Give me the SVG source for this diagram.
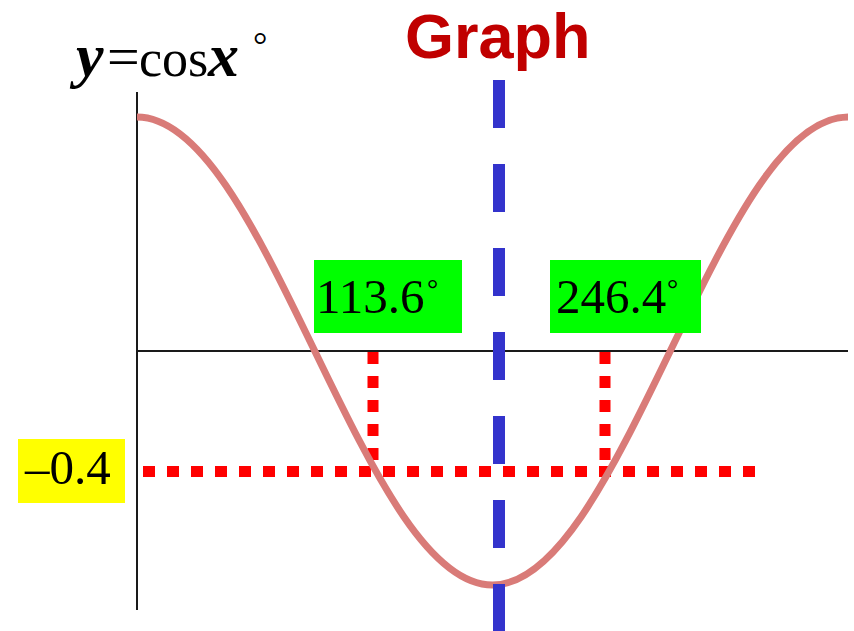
<svg xmlns="http://www.w3.org/2000/svg" width="854" height="631" viewBox="0 0 854 631">
<style>
.axis{stroke:#1a1a1a;stroke-width:2;fill:none}
.dot{stroke:#ff0000;stroke-width:11;stroke-dasharray:12 12;fill:none}
.num{font-family:"Liberation Serif","Times New Roman",serif;font-size:49px;fill:#000}
.deg{font-family:"Liberation Serif","Times New Roman",serif;fill:#000}
</style>
<rect width="854" height="631" fill="#fff"/>
<g id="axes">
<line class="axis" x1="137" y1="92" x2="137" y2="610"/>
<line class="axis" x1="137" y1="351" x2="848" y2="351"/>
</g>
<g id="connectors">
<line class="dot" x1="143" y1="471.5" x2="755" y2="471.5"/>
<line class="dot" x1="373" y1="352" x2="373" y2="471"/>
<line class="dot" x1="605" y1="352" x2="605" y2="471"/>
<path id="curve" d="M137,117 C166.63,117 196.25,142.22 225.88,185.54 C255.5,228.86 285.13,289.74 314.75,351 C344.38,412.26 374,473.14 403.63,516.46 C433.25,559.78 462.88,585 492.5,585 C522.13,585 551.75,559.78 581.38,516.46 C611,473.14 640.63,412.26 670.25,351 C699.88,289.74 729.5,228.86 759.13,185.54 C788.75,142.22 818.38,117 848,117" fill="none" stroke="#d97b78" stroke-width="7"/>
<line x1="499" y1="80" x2="499" y2="631" stroke="#3333cc" stroke-width="12" stroke-dasharray="48 36"/>
</g>
<g id="title">
<text x="405" y="58" font-family="'Liberation Sans',Arial,sans-serif" font-weight="bold" font-size="63" fill="#c00000">Graph</text>
</g>
<g id="equation">
<text font-family="'Liberation Serif','Times New Roman',serif" y="76" fill="#000"><tspan x="76" font-size="62" font-weight="bold" font-style="italic">y</tspan><tspan x="107" font-size="58">=</tspan><tspan x="139" font-size="52">cos</tspan><tspan x="208" font-size="62" font-weight="bold" font-style="italic">x</tspan></text>
<text class="deg" x="253" y="57" font-size="36">°</text>
</g>
<g id="label-113">
<rect x="314" y="260" width="148" height="73" fill="#00ff00"/>
<text class="num" x="316" y="313">113.6</text>
<text class="deg" x="427" y="298" font-size="28">°</text>
</g>
<g id="label-246">
<rect x="550" y="260" width="151" height="73" fill="#00ff00"/>
<text class="num" x="556" y="313">246.4</text>
<text class="deg" x="667" y="298" font-size="28">°</text>
</g>
<g id="label-neg04">
<rect x="18" y="439" width="107" height="64" fill="#ffff00"/>
<text class="num" x="25" y="484">–0.4</text>
</g>
</svg>
